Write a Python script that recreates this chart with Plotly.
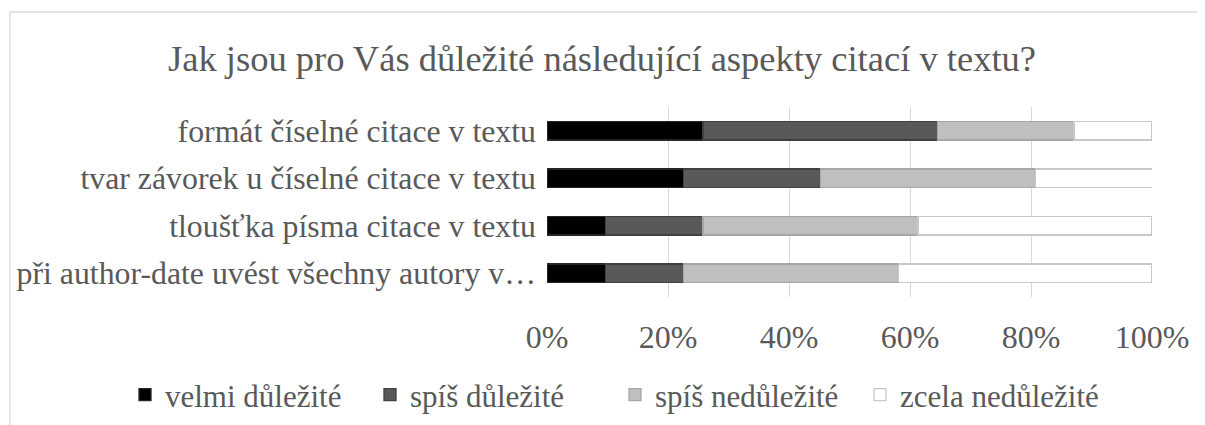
import plotly.graph_objects as go

categories = [
    "formát číselné citace v textu",
    "tvar závorek u číselné citace v textu",
    "tloušťka písma citace v textu",
    "při author-date uvést všechny autory v…",
]
series_names = ["velmi důležité", "spíš důležité", "spíš nedůležité", "zcela nedůležité"]
velmi = [25.8, 22.6, 9.7, 9.7]
spis_dul = [38.7, 22.6, 16.1, 12.9]
spis_nedul = [22.6, 35.5, 35.5, 35.5]
zcela_nedul = [12.9, 19.4, 38.7, 41.9]
tick_vals = [0, 20, 40, 60, 80, 100]
tick_text = ["0%", "20%", "40%", "60%", "80%", "100%"]

values = [velmi, spis_dul, spis_nedul, zcela_nedul]
fills = ["#000000", "#595959", "#bfbfbf", "#ffffff"]
borders = ["#262626", "#404040", "#a6a6a6", "#c8c8c8"]

FONT = "Liberation Serif, Tinos, Times New Roman, Times, DejaVu Serif, serif"
TXT = "#595959"

# page has an 8px body margin; figure is sized to fill the rest of the window
W, H = 1197, 417
L, R, T, B = 539, 53, 99, 128
PW, PH = W - L - R, H - T - B

fig = go.Figure()
for name, vals, fc, bc in zip(series_names, values, fills, borders):
    fig.add_trace(go.Bar(
        y=categories, x=vals, name=name, orientation="h",
        marker=dict(color=fc, line=dict(color=bc, width=1.3)),
        hoverinfo="x+y+name",
    ))

fig.update_layout(
    barmode="stack",
    bargap=0.61,
    width=W, height=H,
    margin=dict(l=L, r=R, t=T, b=B, autoexpand=False),
    paper_bgcolor="white", plot_bgcolor="white",
    font=dict(family=FONT, color=TXT, size=32),
    title=dict(
        text="Jak jsou pro Vás důležité následující aspekty citací v textu?",
        x=(602 - 8) / W, xref="container", xanchor="center",
        y=1 - (58 - 8) / H, yref="container", yanchor="middle",
        font=dict(family=FONT, size=36.5, color=TXT),
    ),
    xaxis=dict(
        range=[0, 100], tickvals=tick_vals, ticktext=tick_text,
        showgrid=True, gridcolor="#d9d9d9", gridwidth=1.3,
        zeroline=False, showline=False,
        ticks="outside", ticklen=12, tickcolor="rgba(0,0,0,0)",
        tickfont=dict(family=FONT, size=32, color=TXT),
        fixedrange=True,
    ),
    yaxis=dict(
        categoryorder="array", categoryarray=categories[::-1],
        showgrid=False, zeroline=False, showline=False,
        ticks="", ticklabelstandoff=10,
        tickfont=dict(family=FONT, size=31.8, color=TXT),
        fixedrange=True,
    ),
    legend=dict(
        orientation="h", traceorder="normal",
        x=(125 - 8 - L) / PW, xref="paper", xanchor="left",
        y=(289 - 387) / PH, yref="paper", yanchor="middle",
        font=dict(family=FONT, size=31, color=TXT),
        itemwidth=30, entrywidth=200, entrywidthmode="pixels",
        bgcolor="rgba(0,0,0,0)",
    ),
    shapes=[dict(
        type="rect", xref="paper", yref="paper",
        x0=(10 - 8 - L) / PW, x1=2.0,
        y0=-2.0, y1=(T + PH - 4) / PH,
        line=dict(color="#d9d9d9", width=1.3), fillcolor="rgba(0,0,0,0)",
        layer="below",
    )],
)

fig.write_html("out.html")
